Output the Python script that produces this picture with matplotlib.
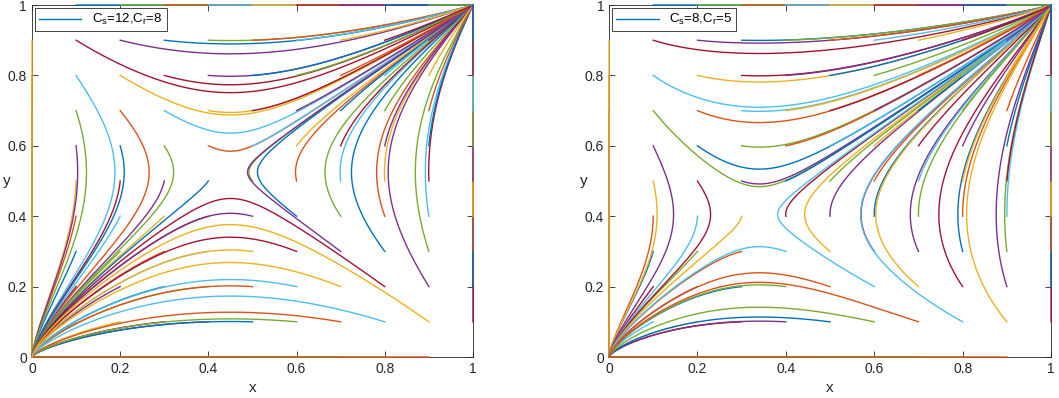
import numpy as np
import matplotlib
matplotlib.use('Agg')
import matplotlib.pyplot as plt

plt.rcParams['font.family'] = ['Liberation Sans', 'DejaVu Sans']
plt.rcParams['mathtext.default'] = 'regular'

# starting points of the trajectories (grid 0:0.1:1 in both panels)
x_start = [0, 0.1, 0.2, 0.3, 0.4, 0.5, 0.6, 0.7, 0.8, 0.9, 1]
y_start = [0, 0.1, 0.2, 0.3, 0.4, 0.5, 0.6, 0.7, 0.8, 0.9, 1]

# one entry per panel: legend text, saddle point and rates
labels = [r'C$_s$=12,C$_r$=8', r'C$_s$=8,C$_r$=5']
x_saddle = [0.45, 0.34]
y_saddle = [0.525, 0.405]
rate_x = [1.2, 1.22]
rate_y = [1.0, 1.0]

# matlab default colour order
cols = ['#0072BD', '#D95319', '#EDB120', '#7E2F8E', '#77AC30', '#4DBEEE', '#A2142F']


def field(x, y, xs, ys, a, b):
    dx = a * x * (1 - x) * (y - ys)
    dy = b * y * (1 - y) * (x - xs)
    return dx, dy


def integrate(x0, y0, xs, ys, a, b, T=60.0, dt=0.02):
    x = np.array(x0, dtype=float)
    y = np.array(y0, dtype=float)
    X = [x.copy()]
    Y = [y.copy()]
    for k in range(int(T / dt)):
        k1x, k1y = field(x, y, xs, ys, a, b)
        k2x, k2y = field(x + dt/2*k1x, y + dt/2*k1y, xs, ys, a, b)
        k3x, k3y = field(x + dt/2*k2x, y + dt/2*k2y, xs, ys, a, b)
        k4x, k4y = field(x + dt*k3x, y + dt*k3y, xs, ys, a, b)
        x = x + dt/6*(k1x + 2*k2x + 2*k3x + k4x)
        y = y + dt/6*(k1y + 2*k2y + 2*k3y + k4y)
        X.append(x.copy())
        Y.append(y.copy())
    return np.array(X), np.array(Y)


fig = plt.figure(figsize=(10.59, 3.98), dpi=100)
boxes = [[0.0302, 0.103, 0.4164, 0.8844], [0.5751, 0.103, 0.4174, 0.8844]]

gx, gy = np.meshgrid(x_start, y_start, indexing='ij')
gx = gx.ravel()
gy = gy.ravel()

for p in range(2):
    ax = fig.add_axes(boxes[p])
    X, Y = integrate(gx, gy, x_saddle[p], y_saddle[p], rate_x[p], rate_y[p])
    first = None
    for n in range(len(gx)):
        ln, = ax.plot(X[:, n], Y[:, n], color=cols[n % 7], lw=1.0,
                      clip_on=False, zorder=3)
        if first is None:
            first = ln
    ax.set_xlim(0, 1)
    ax.set_ylim(0, 1)
    ax.set_xticks([0, 0.2, 0.4, 0.6, 0.8, 1])
    ax.set_yticks([0, 0.2, 0.4, 0.6, 0.8, 1])
    ax.set_xticklabels(['0', '0.2', '0.4', '0.6', '0.8', '1'])
    ax.set_yticklabels(['0', '0.2', '0.4', '0.6', '0.8', '1'])
    ax.tick_params(direction='in', top=True, right=True, length=4,
                   labelsize=10, colors='0.15', width=0.6)
    for s in ax.spines.values():
        s.set_color('0.15')
        s.set_linewidth(0.6)
    ax.set_xlabel('x', fontsize=11, color='0.15', labelpad=4)
    ax.set_ylabel('y', fontsize=11, color='0.15', rotation=0,
                  ha='left', va='center')
    ax.yaxis.set_label_coords(-29 / 441, 0.5)
    leg = ax.legend([first], [labels[p]], loc='upper left', fancybox=False,
                    edgecolor='0.15', framealpha=1, fontsize=9.5,
                    handlelength=3.2, borderaxespad=0.25, borderpad=0.3)
    leg.get_frame().set_linewidth(0.6)

fig.savefig('out.png', dpi=100)
